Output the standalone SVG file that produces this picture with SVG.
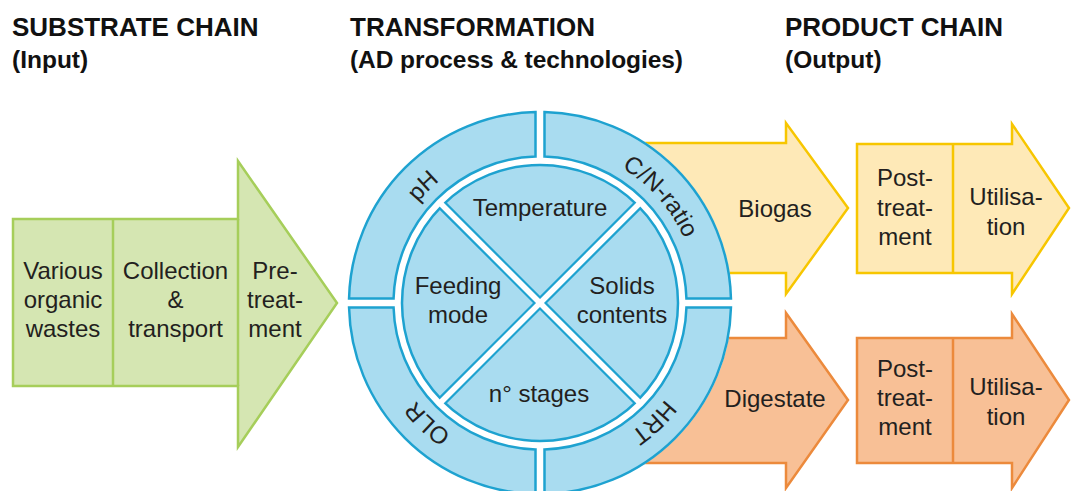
<svg xmlns="http://www.w3.org/2000/svg" width="1071" height="491" viewBox="0 0 1071 491">
<style>
.t{font-family:"Liberation Sans",Arial,sans-serif;font-size:24px;fill:#231f20;text-anchor:middle}
.h{font-family:"Liberation Sans",Arial,sans-serif;font-weight:bold;fill:#111}
.h1{font-size:26px}
.h2{font-size:24.5px}
.g{fill:#d5e6b2;stroke:#a6ce5a;stroke-width:2.5;stroke-linejoin:miter}
.y{fill:#fee9b7;stroke:#f7c600;stroke-width:2.5}
.o{fill:#f8c096;stroke:#ec8a3c;stroke-width:2.5}
.b{fill:#a9dcf0;stroke:#1ea2d0;stroke-width:2.5}
</style>
<defs>
<path id="ringpath" d="M382,303 A158,158 0 1 1 698,303 A158,158 0 1 1 382,303"/>
</defs>
<rect width="1071" height="491" fill="#fff"/>

<g id="headers">
<text class="h h1" x="12" y="36">SUBSTRATE CHAIN</text>
<text class="h h2" x="12" y="68">(Input)</text>
<text class="h h1" x="350" y="36">TRANSFORMATION</text>
<text class="h h2" x="350" y="68" textLength="333">(AD process &amp; technologies)</text>
<text class="h h1" x="785" y="36">PRODUCT CHAIN</text>
<text class="h h2" x="785" y="68">(Output)</text>
</g>

<g id="substrate-chain">
<path class="g" d="M13,219 H238 V161 L337,303 L238,447 V386 H13 Z"/>
<line class="g" x1="113" y1="219" x2="113" y2="386"/>
<line class="g" x1="238" y1="219" x2="238" y2="386"/>
<text class="t" x="63" y="279">Various</text>
<text class="t" x="63" y="308">organic</text>
<text class="t" x="63" y="337">wastes</text>
<text class="t" x="175.5" y="279">Collection</text>
<text class="t" x="175.5" y="308">&amp;</text>
<text class="t" x="175.5" y="337">transport</text>
<text class="t" x="275" y="279">Pre-</text>
<text class="t" x="275" y="308">treat-</text>
<text class="t" x="275" y="337">ment</text>
</g>

<g id="biogas">
<path class="y" d="M600,143 H786 V123 L848,208 L786,294 V273 H600 Z"/>
<text class="t" x="775" y="217">Biogas</text>
</g>

<g id="digestate">
<path class="o" d="M600,338 H786 V313 L848,400 L786,488 V463 H600 Z"/>
<text class="t" x="775" y="407">Digestate</text>
</g>

<g id="biogas-post">
<path class="y" d="M857,144 H1012 V124 L1069,208 L1012,294 V273 H857 Z"/>
<line class="y" x1="953" y1="144" x2="953" y2="273"/>
<text class="t" x="905" y="186">Post-</text>
<text class="t" x="905" y="216">treat-</text>
<text class="t" x="905" y="245">ment</text>
<text class="t" x="1006" y="205">Utilisa-</text>
<text class="t" x="1006" y="235">tion</text>
</g>

<g id="digestate-post">
<path class="o" d="M857,338 H1012 V314 L1069,400 L1012,488 V463 H857 Z"/>
<line class="o" x1="953" y1="338" x2="953" y2="463"/>
<text class="t" x="905" y="377">Post-</text>
<text class="t" x="905" y="406">treat-</text>
<text class="t" x="905" y="435">ment</text>
<text class="t" x="1006" y="395">Utilisa-</text>
<text class="t" x="1006" y="425">tion</text>
</g>

<g id="transformation">
<circle cx="540" cy="303" r="192" fill="#fff"/>
<path class="b" d="M349.053,298.5 A191,191 0 0 1 535.5,112.053 L535.5,156.569 A146.5,146.5 0 0 0 393.569,298.5 Z"/>
<path class="b" d="M544.5,112.053 A191,191 0 0 1 730.947,298.5 L686.431,298.5 A146.5,146.5 0 0 0 544.5,156.569 Z"/>
<path class="b" d="M730.947,307.5 A191,191 0 0 1 544.5,493.947 L544.5,449.431 A146.5,146.5 0 0 0 686.431,307.5 Z"/>
<path class="b" d="M535.5,493.947 A191,191 0 0 1 349.053,307.5 L393.569,307.5 A146.5,146.5 0 0 0 535.5,449.431 Z"/>
<circle class="b" cx="540" cy="303" r="138"/>
<g stroke="#1ea2d0" stroke-width="10">
<line x1="443.1" y1="206.1" x2="636.9" y2="399.9"/>
<line x1="636.9" y1="206.1" x2="443.1" y2="399.9"/>
</g>
<g stroke="#fff" stroke-width="5.5">
<line x1="440.3" y1="203.3" x2="639.7" y2="402.7"/>
<line x1="639.7" y1="203.3" x2="440.3" y2="402.7"/>
</g>
<text class="t" x="540" y="216">Temperature</text>
<text class="t" x="458" y="294">Feeding</text>
<text class="t" x="458" y="323">mode</text>
<text class="t" x="622" y="294">Solids</text>
<text class="t" x="622" y="323">contents</text>
<text class="t" x="539" y="402">n° stages</text>
<text class="t"><textPath href="#ringpath" startOffset="124">pH</textPath></text>
<text class="t"><textPath href="#ringpath" startOffset="382">C/N-ratio</textPath></text>
<text class="t"><textPath href="#ringpath" startOffset="624">HRT</textPath></text>
<text class="t"><textPath href="#ringpath" startOffset="863">OLR</textPath></text>
</g>
</svg>
